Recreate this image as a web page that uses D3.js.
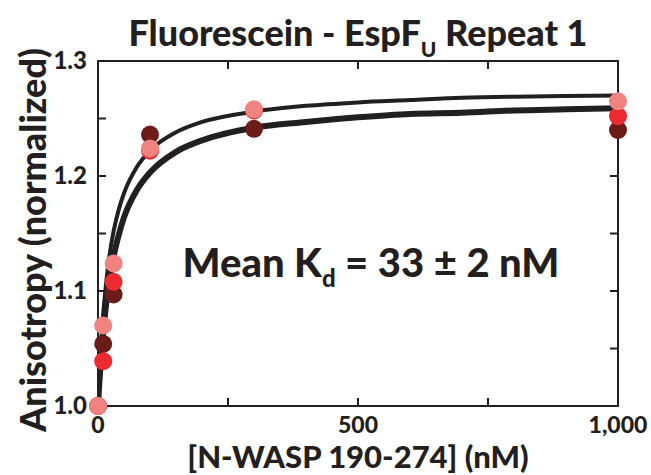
<!DOCTYPE html>
<html><head><meta charset="utf-8">
<script src="https://cdn.jsdelivr.net/npm/d3@7"></script>
<style>body{margin:0;background:#fff}text{font-family:Lato,"Open Sans",sans-serif;font-weight:900;fill:#231f20}</style>
</head><body><svg id="c" width="651" height="475"></svg>
<script>
// data
const concentrations = [0, 10, 30, 100, 300, 1000];
const seriesNames = ["rep A", "rep B", "rep C"];
const seriesColors = ["#6b1c18", "#ec2a30", "#f0837f"];
const valuesA = [1.000, 1.054, 1.097, 1.236, 1.241, 1.240];
const valuesB = [1.000, 1.039, 1.108, 1.222, 1.257, 1.252];
const valuesC = [1.000, 1.070, 1.124, 1.224, 1.258, 1.265];
const fitX = [0, 2, 5, 10, 15, 20, 30, 40, 50, 75, 100, 150, 200, 300, 400, 500, 600, 700, 800, 900, 1000];
const fitUpper = [1.000, 1.021, 1.047, 1.080, 1.104, 1.124, 1.152, 1.171, 1.185, 1.208, 1.222, 1.238, 1.247, 1.256, 1.261, 1.264, 1.266, 1.268, 1.269, 1.2695, 1.270];
const fitLower = [1.000, 1.016, 1.036, 1.064, 1.086, 1.103, 1.130, 1.149, 1.164, 1.188, 1.203, 1.221, 1.231, 1.242, 1.247, 1.251, 1.254, 1.255, 1.257, 1.258, 1.259];
const xTicks = [0, 500, 1000];
const xTickLabels = ["0", "500", "1,000"];
const xMinor = [250, 750];
const yTicks = [1.0, 1.1, 1.2, 1.3];
const yTickLabels = ["1.0", "1.1", "1.2", "1.3"];
const yMinor = [1.05, 1.15, 1.25];

const svg = d3.select("#c");
const L = 98, R = 618, T = 61, B = 406;
const x = d3.scaleLinear().domain([0, 1000]).range([L, R]);
const y = d3.scaleLinear().domain([1.0, 1.3]).range([B, T]);
const ink = "#231f20";

svg.append("rect").attr("width", 651).attr("height", 475).attr("fill", "#fff");

svg.append("clipPath").attr("id", "clip").append("rect")
  .attr("x", L).attr("y", T).attr("width", R - L).attr("height", B - T);

svg.append("rect").attr("x", L).attr("y", T).attr("width", R - L).attr("height", B - T)
  .attr("fill", "none").attr("stroke", ink).attr("stroke-width", 2);

const tl = 8;
const allY = yTicks.concat(yMinor);
svg.append("g").selectAll("line").data(allY).join("line")
  .attr("x1", L).attr("x2", L + tl).attr("y1", d => y(d)).attr("y2", d => y(d))
  .attr("stroke", ink).attr("stroke-width", 2);
svg.append("g").selectAll("line").data(allY).join("line")
  .attr("x1", R).attr("x2", R - tl).attr("y1", d => y(d)).attr("y2", d => y(d))
  .attr("stroke", ink).attr("stroke-width", 2);
const allX = xTicks.concat(xMinor);
svg.append("g").selectAll("line").data(allX).join("line")
  .attr("x1", d => x(d)).attr("x2", d => x(d)).attr("y1", B).attr("y2", B - tl)
  .attr("stroke", ink).attr("stroke-width", 2);
svg.append("g").selectAll("line").data(allX).join("line")
  .attr("x1", d => x(d)).attr("x2", d => x(d)).attr("y1", T).attr("y2", T + tl)
  .attr("stroke", ink).attr("stroke-width", 2);

svg.append("g").selectAll("text").data(yTicks).join("text")
  .attr("x", 87).attr("y", d => y(d) + 8).attr("text-anchor", "end")
  .attr("font-size", 24).text((d, i) => yTickLabels[i]);
svg.append("g").selectAll("text").data(xTicks).join("text")
  .attr("x", d => x(d)).attr("y", 433).attr("text-anchor", "middle")
  .attr("font-size", 23).text((d, i) => xTickLabels[i]);

const line = d3.line().x((d, i) => x(fitX[i])).y(d => y(d)).curve(d3.curveMonotoneX);
const g = svg.append("g").attr("clip-path", "url(#clip)");
g.append("path").attr("d", line(fitUpper)).attr("fill", "none").attr("stroke", ink).attr("stroke-width", 4);
g.append("path").attr("d", line(fitLower)).attr("fill", "none").attr("stroke", ink).attr("stroke-width", 6);

[valuesA, valuesB, valuesC].forEach((vals, s) => {
  svg.append("g").selectAll("circle").data(vals).join("circle")
    .attr("cx", (d, i) => x(concentrations[i])).attr("cy", d => y(d)).attr("r", 9)
    .attr("fill", seriesColors[s]);
});

const title = svg.append("text").attr("x", 358).attr("y", 46).attr("text-anchor", "middle").attr("font-size", 36);
title.append("tspan").text("Fluorescein - EspF");
title.append("tspan").attr("font-size", 21).attr("dy", 11).text("U");
title.append("tspan").attr("dy", -11).text(" Repeat 1");

const ann = svg.append("text").attr("x", 371).attr("y", 277).attr("text-anchor", "middle").attr("font-size", 40);
ann.append("tspan").text("Mean K");
ann.append("tspan").attr("font-size", 24).attr("dy", 10).text("d");
ann.append("tspan").attr("dy", -10).text(" = 33 \u00b1 2 nM");

svg.append("text").attr("x", 358).attr("y", 468).attr("text-anchor", "middle").attr("font-size", 31)
  .text("[N-WASP 190-274] (nM)");
svg.append("text").attr("transform", "translate(46,240) rotate(-90)").attr("text-anchor", "middle").attr("font-size", 36)
  .text("Anisotropy (normalized)");
</script></body></html>
